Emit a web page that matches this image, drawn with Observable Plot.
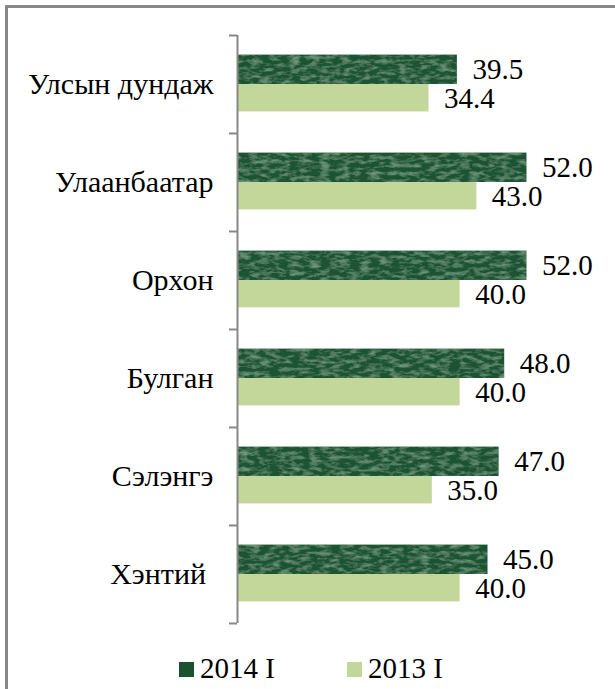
<!DOCTYPE html>
<html>
<head>
<meta charset="utf-8">
<script src="https://cdn.jsdelivr.net/npm/d3@7"></script>
<script src="https://cdn.jsdelivr.net/npm/@observablehq/plot@0.6"></script>
<style>
  html, body { margin: 0; padding: 0; background: #fff; }
  #wrap { position: relative; width: 615px; height: 689px; overflow: hidden; font-family: "Liberation Serif", "DejaVu Serif", serif; }
  #frame { position: absolute; left: 5px; top: 5px; width: 640px; height: 720px; border: 3px solid #888; box-sizing: border-box; }
  #chart { position: absolute; left: 0; top: 0; }
  #legend { position: absolute; left: 0; top: 650px; width: 615px; height: 36px; }
  .item { position: absolute; top: 0; font-size: 29px; line-height: 36px; color: #000; white-space: nowrap; font-family: "Liberation Serif", "DejaVu Serif", serif; }
  .sw { display: inline-block; width: 15px; height: 15px; margin-right: 6px; vertical-align: 1px; }
  #chart svg text { font-family: "Liberation Serif", "DejaVu Serif", serif; }
</style>
</head>
<body>
<div id="wrap">
  <div id="frame"></div>
  <div id="chart"></div>
  <div id="legend"></div>
</div>
<script>
const categories = ["Улсын дундаж", "Улаанбаатар", "Орхон", "Булган", "Сэлэнгэ", "Хэнтий\u00a0"];
const series = ["2014 I", "2013 I"];
const values2014 = [39.5, 52.0, 52.0, 48.0, 47.0, 45.0];
const values2013 = [34.4, 43.0, 40.0, 40.0, 35.0, 40.0];
const colors = ["#1a5230", "#c4d79b"];

const rows = [];
categories.forEach((c, i) => {
  rows.push({cat: c, i, series: series[0], value: values2014[i]});
  rows.push({cat: c, i, series: series[1], value: values2013[i]});
});
const r2014 = rows.filter(d => d.series === series[0]);
const r2013 = rows.filter(d => d.series === series[1]);
const n = categories.length;
const bounds = d3.range(n + 1).map(i => i - 0.5);
const centers = d3.range(n);
const serif = '"Liberation Serif", "DejaVu Serif", serif';

const plot = Plot.plot({
  width: 615,
  height: 645,
  marginLeft: 237,
  marginRight: 44,
  marginTop: 35,
  marginBottom: 22,
  style: {fontFamily: serif, fontSize: "29px", color: "#000", background: "transparent"},
  x: {domain: [0, 60], axis: null},
  y: {domain: [-0.5, n - 0.5], reverse: true, axis: null},
  marks: [
    Plot.rectX(r2014, {x1: 0, x2: "value", y1: d => d.i - 0.30, y2: d => d.i, fill: colors[0]}),
    Plot.rectX(r2013, {x1: 0, x2: "value", y1: d => d.i, y2: d => d.i + 0.28, fill: colors[1]}),
    Plot.text(r2014, {x: "value", y: d => d.i - 0.15, text: d => d.value.toFixed(1), textAnchor: "start", dx: 15, fontSize: 29, fontFamily: serif, fill: "#000"}),
    Plot.text(r2013, {x: "value", y: d => d.i + 0.14, text: d => d.value.toFixed(1), textAnchor: "start", dx: 15, fontSize: 29, fontFamily: serif, fill: "#000"}),
    Plot.ruleX([0], {y1: -0.5, y2: n - 0.5, stroke: "#888", strokeWidth: 2}),
    Plot.axisY(bounds, {tickSize: 8, tickFormat: () => "", stroke: "#888", strokeWidth: 2}),
    Plot.axisY(centers, {tickSize: 0, tickPadding: 24, tickFormat: i => categories[i], fontSize: 30, fontFamily: serif, fill: "#000"})
  ]
});
document.getElementById("chart").appendChild(plot);

// marble texture on the dark bars
const svg = d3.select(plot);
const defs = svg.insert("defs", ":first-child");
const f = defs.append("filter").attr("id", "marble").attr("x", 0).attr("y", 0).attr("width", 1).attr("height", 1);
f.append("feTurbulence").attr("type", "fractalNoise").attr("baseFrequency", "0.1 0.25").attr("numOctaves", 3).attr("seed", 11).attr("result", "n");
f.append("feColorMatrix").attr("in", "n").attr("type", "matrix")
  .attr("values", "0 0 0 0 0.26  0 0 0 0 0.5  0 0 0 0 0.33  1.3 0 0 0 -0.55").attr("result", "c");
f.append("feComposite").attr("in", "c").attr("in2", "SourceGraphic").attr("operator", "in").attr("result", "ci");
const m = f.append("feMerge");
m.append("feMergeNode").attr("in", "SourceGraphic");
m.append("feMergeNode").attr("in", "ci");
svg.selectAll(`g[fill="${colors[0]}"]`).attr("filter", "url(#marble)");

// legend
const legend = d3.select("#legend");
const lx = [179, 347];
series.forEach((s, k) => {
  const it = legend.append("div").attr("class", "item").style("left", lx[k] + "px");
  it.append("span").attr("class", "sw").style("background", colors[k]);
  it.append("span").text(s);
});
</script>
</body>
</html>
